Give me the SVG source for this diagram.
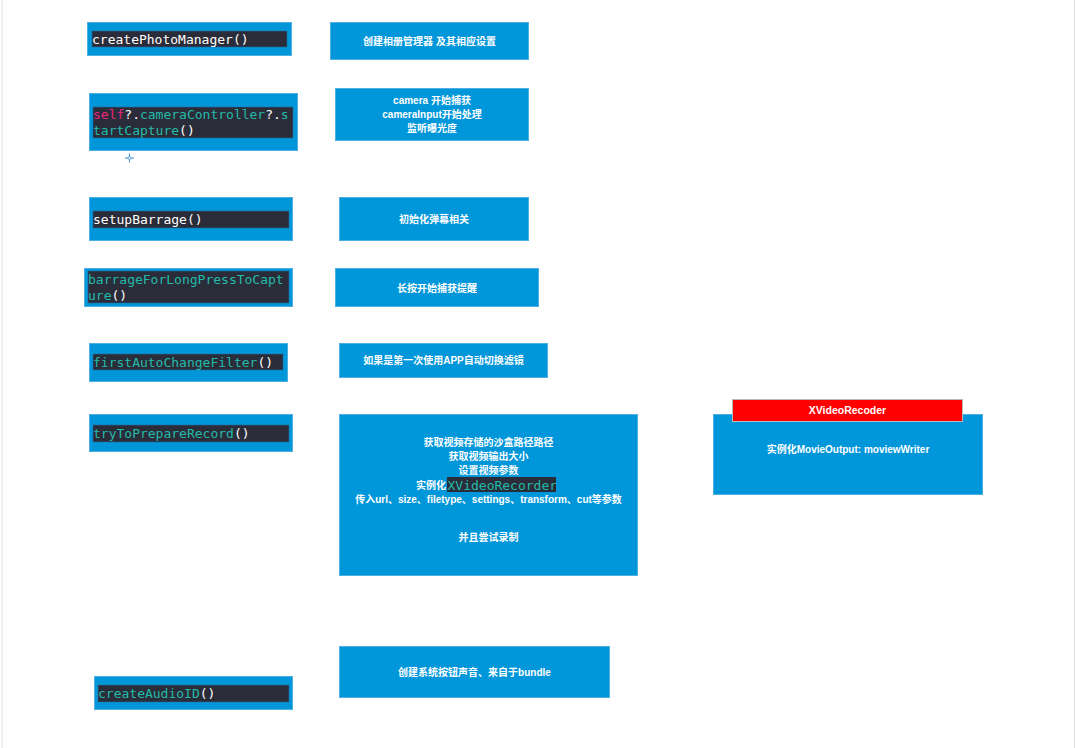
<svg xmlns="http://www.w3.org/2000/svg" width="1076" height="748" viewBox="0 0 1076 748">
<style>
.box{fill:#0096DA;stroke:#4FAEE3;stroke-width:1}
.bar{fill:#2B2C39;stroke:#1F6E99;stroke-width:0.6}
.code{font-family:"DejaVu Sans Mono",monospace;font-size:13px}
.w{fill:#FFFFFF}
.t{fill:#22BBA8}
.p{fill:#E8247C}
.lbl{font-family:"Liberation Sans","Noto Sans CJK SC",sans-serif;font-size:10px;font-weight:bold;fill:#FFFFFF;text-anchor:middle}
</style>
<rect x="0" y="0" width="1076" height="748" fill="#FFFFFF"/>
<line x1="2" y1="0" x2="2" y2="748" stroke="#E2E2E2" stroke-width="1"/>
<line x1="1074.5" y1="0" x2="1074.5" y2="748" stroke="#E2E2E2" stroke-width="1"/>
<g id="connectors"></g>

<g id="n1"><rect class="box" x="87.5" y="22.5" width="204" height="33"/><rect class="bar" x="92" y="31" width="195" height="16"/><text class="code w" x="92" y="44">createPhotoManager()</text></g>
<g id="n2"><rect class="box" x="89.5" y="93.5" width="208" height="57"/><rect class="bar" x="93" y="107" width="200" height="31"/><text class="code" x="93" y="119"><tspan class="p">self</tspan><tspan class="w">?.</tspan><tspan class="t">cameraController</tspan><tspan class="w">?.</tspan><tspan class="t">s</tspan></text><text class="code" x="93" y="135"><tspan class="t">tartCapture</tspan><tspan class="w">()</tspan></text></g>
<g id="cross"><line x1="125" y1="158" x2="134" y2="158" stroke="#3A8FD6" stroke-width="1"/><line x1="129.5" y1="153.5" x2="129.5" y2="162.5" stroke="#3A8FD6" stroke-width="1"/><circle cx="129.5" cy="158" r="1.5" fill="#FFFFFF" stroke="#3A8FD6" stroke-width="0.8"/></g>
<g id="n3"><rect class="box" x="89.5" y="197.5" width="203" height="43"/><rect class="bar" x="93" y="211" width="196" height="17"/><text class="code w" x="93" y="224">setupBarrage()</text></g>
<g id="n4"><rect class="box" x="84.5" y="268.5" width="208" height="38"/><rect class="bar" x="88" y="271" width="201" height="32"/><text class="code" x="88" y="284"><tspan class="t">barrageForLongPressToCapt</tspan></text><text class="code" x="88" y="300"><tspan class="t">ure</tspan><tspan class="w">()</tspan></text></g>
<g id="n5"><rect class="box" x="89.5" y="343.5" width="198" height="38"/><rect class="bar" x="93" y="354" width="190" height="16"/><text class="code" x="93" y="367"><tspan class="t">firstAutoChangeFilter</tspan><tspan class="w">()</tspan></text></g>
<g id="n6"><rect class="box" x="89.5" y="414.5" width="203" height="37"/><rect class="bar" x="93" y="425" width="196" height="17"/><text class="code" x="93" y="438"><tspan class="t">tryToPrepareRecord</tspan><tspan class="w">()</tspan></text></g>
<g id="n7"><rect class="box" x="94.5" y="676.5" width="198" height="33"/><rect class="bar" x="98" y="685" width="191" height="17"/><text class="code" x="98" y="698"><tspan class="t">createAudioID</tspan><tspan class="w">()</tspan></text></g>

<g id="d1"><rect class="box" x="330.5" y="22.5" width="198" height="37"/><text class="lbl" x="429.5" y="45">创建相册管理器 及其相应设置</text></g>
<g id="d2"><rect class="box" x="335.5" y="88.5" width="193" height="52"/><text class="lbl" x="432" y="104">camera 开始捕获</text><text class="lbl" x="432" y="118">cameraInput开始处理</text><text class="lbl" x="432" y="132">监听曝光度</text></g>
<g id="d3"><rect class="box" x="339.5" y="197.5" width="189" height="43"/><text class="lbl" x="434" y="223">初始化弹幕相关</text></g>
<g id="d4"><rect class="box" x="335.5" y="268.5" width="203" height="38"/><text class="lbl" x="437" y="292">长按开始捕获提醒</text></g>
<g id="d5"><rect class="box" x="339.5" y="343.5" width="208" height="34"/><text class="lbl" x="443.5" y="364">如果是第一次使用APP自动切换滤镜</text></g>
<g id="d6"><rect class="box" x="339.5" y="414.5" width="298" height="161"/>
<text class="lbl" x="488.5" y="446">获取视频存储的沙盒路径路径</text>
<text class="lbl" x="488.5" y="460">获取视频输出大小</text>
<text class="lbl" x="488.5" y="474">设置视频参数</text>
<rect x="447" y="477" width="109" height="15" fill="#2B2C39"/>
<text class="lbl" x="446" y="489" style="text-anchor:end">实例化</text>
<text class="code t" x="447.5" y="489.5">XVideoRecorder</text>
<text class="lbl" x="488.5" y="503">传入url、size、filetype、settings、transform、cut等参数</text>
<text class="lbl" x="488.5" y="541">并且尝试录制</text></g>
<g id="d7"><rect class="box" x="713.5" y="414.5" width="269" height="80"/><rect x="732.5" y="399.5" width="230" height="22" fill="#FF0000" stroke="#B8B8B8" stroke-width="1"/><text class="lbl" x="847.5" y="414" style="font-size:10.5px">XVideoRecoder</text><text class="lbl" x="848" y="453">实例化MovieOutput: moviewWriter</text></g>
<g id="d8"><rect class="box" x="339.5" y="646.5" width="270" height="51"/><text class="lbl" x="474.5" y="676">创建系统按钮声音、来自于bundle</text></g>
</svg>
